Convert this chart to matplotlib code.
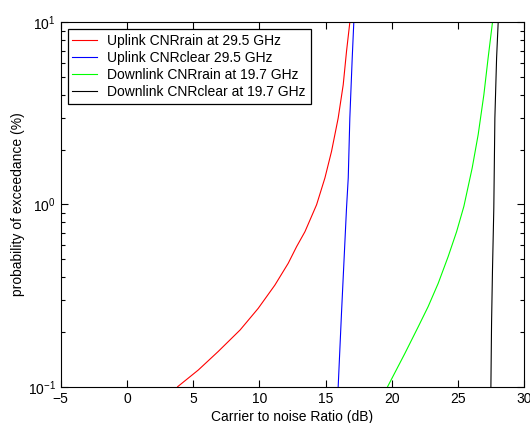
import numpy as np
import matplotlib
matplotlib.use("Agg")
import matplotlib.pyplot as plt
from matplotlib.ticker import LogLocator, MultipleLocator, NullFormatter

# ── Data: carrier-to-noise ratio (dB) vs probability of exceedance (%) ─────
uplink_rain_cnr = [3.83, 5.39, 6.89, 8.55, 9.91, 11.17, 12.18, 12.81,
                   13.44, 14.32, 14.95, 15.45, 15.95, 16.33, 16.58, 16.83]
uplink_rain_p = [0.1, 0.1235, 0.156, 0.205, 0.269, 0.361, 0.476, 0.587,
                 0.709, 0.997, 1.40, 1.96, 2.98, 4.54, 6.93, 10.0]

uplink_clear_cnr = [15.95, 16.20, 16.58, 16.71, 16.83, 17.01, 17.13]
uplink_clear_p = [0.1, 0.253, 0.957, 1.40, 2.98, 6.37, 10.0]

downlink_rain_cnr = [19.68, 20.98, 21.99, 22.74, 23.50, 24.25, 24.89,
                     25.44, 26.07, 26.52, 26.95, 27.27, 27.60]
downlink_rain_p = [0.1, 0.152, 0.213, 0.275, 0.369, 0.517, 0.709,
                   0.977, 1.59, 2.42, 4.01, 6.37, 10.0]

downlink_clear_cnr = [27.48, 27.53, 27.60, 27.70, 27.78, 27.91, 28.03]
downlink_clear_p = [0.1, 0.223, 0.437, 0.957, 2.98, 6.37, 10.0]

labels = ["Uplink CNRrain at 29.5 GHz",
          "Uplink CNRclear 29.5 GHz",
          "Downlink CNRrain at 19.7 GHz",
          "Downlink CNRclear at 19.7 GHz"]
colors = ["#ff0000", "#0000ff", "#00ff00", "#000000"]

plt.rcParams["font.family"] = ["Liberation Sans", "DejaVu Sans"]
plt.rcParams["font.size"] = 10

# ── Figure ─────────────────────────────────────────────────────────────────
fig = plt.figure(figsize=(5.30, 4.23), dpi=100)
ax = fig.add_axes([0.1145, 0.0858, 0.8747, 0.8615])

series = [(uplink_rain_cnr, uplink_rain_p),
          (uplink_clear_cnr, uplink_clear_p),
          (downlink_rain_cnr, downlink_rain_p),
          (downlink_clear_cnr, downlink_clear_p)]
for (x, y), lab, col in zip(series, labels, colors):
    ax.plot(x, y, color=col, linewidth=0.8, label=lab)

ax.set_yscale("log")
ax.set_xlim(-5, 30)
ax.set_ylim(0.1, 10)
ax.xaxis.set_major_locator(MultipleLocator(5))
ax.yaxis.set_major_locator(LogLocator(base=10))
ax.yaxis.set_minor_locator(LogLocator(base=10, subs=np.arange(2, 10)))
ax.yaxis.set_minor_formatter(NullFormatter())

ax.tick_params(which="both", direction="in", top=True, right=True,
               width=0.8, labelsize=10)
ax.tick_params(which="major", length=5)
ax.tick_params(which="minor", length=3)
for sp in ax.spines.values():
    sp.set_linewidth(0.8)

ax.set_xlabel("Carrier to noise Ratio (dB)", labelpad=3)
ax.set_ylabel("probability of exceedance (%)", labelpad=2)

leg = ax.legend(loc="upper left", fancybox=False, framealpha=1,
                edgecolor="black", handlelength=1.8, handletextpad=0.7,
                labelspacing=0.22, borderpad=0.35, borderaxespad=0.5)
leg.get_frame().set_linewidth(0.9)

fig.savefig("out.png", dpi=100)
plt.close(fig)
